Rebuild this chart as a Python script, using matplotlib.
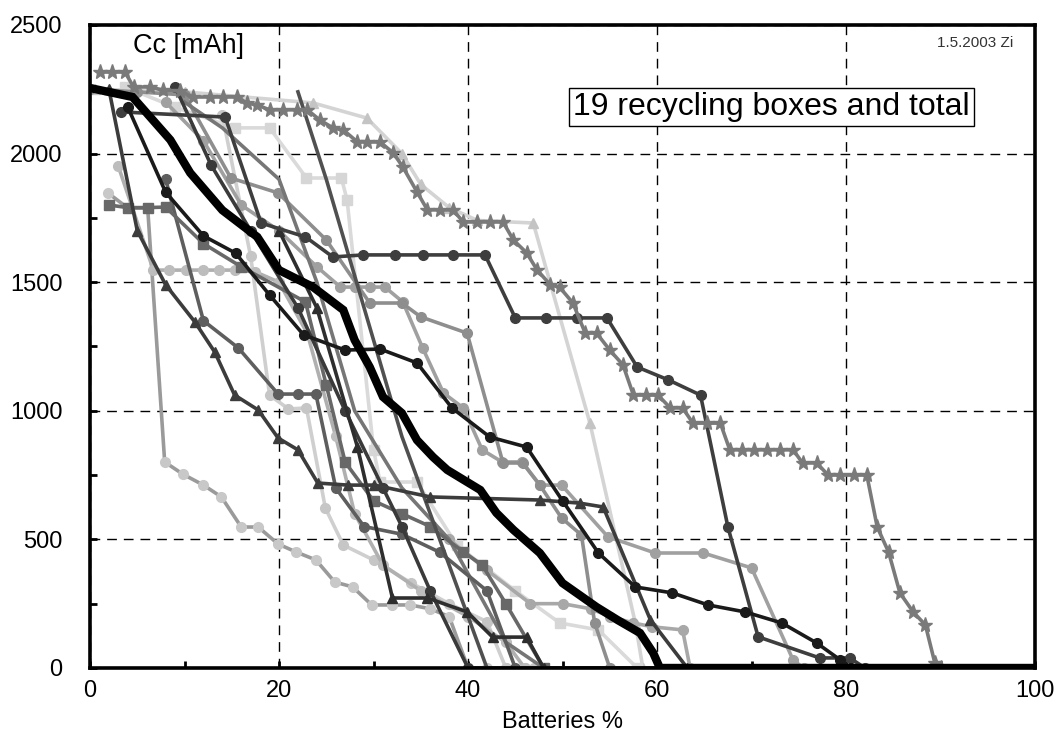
import matplotlib
matplotlib.use("Agg")
import matplotlib.pyplot as plt
from matplotlib.ticker import MultipleLocator

plt.rcParams['font.family'] = ['Liberation Sans', 'DejaVu Sans']

# total of all boxes (thick black)
total_x = [0, 4.5, 8.5, 10.6, 14, 17.7, 20, 23.6, 26.8, 28, 29.6, 31, 33, 34.6, 36.3, 37.8, 41.3, 43, 44.8,
           47.6, 50, 53.6, 55.8, 58.2, 59.6, 60.3, 100]
total_y = [2255, 2220, 2053, 1925, 1780, 1676, 1547, 1481, 1392, 1275, 1170, 1054, 991, 886, 820, 770, 692, 603,
           537, 447, 330, 237, 187, 136, 58, 0, 0]

# the individual boxes
stars_x = [1.1, 2.3, 3.7, 4.6, 6.3, 7.7, 9.5, 10.9, 12.7, 14.1, 15.6, 16.6, 17.7, 19, 20.4, 21.9, 23, 24.3, 25.7,
           26.8, 28.3, 29.3, 30.7, 32.1, 33.1, 34.6, 35.7, 37, 38.4, 39.5, 41, 42.3, 43.7, 44.8, 46.2, 47.3, 48.7,
           49.7, 51.1, 52.4, 53.6, 55, 56.4, 57.5, 58.8, 60.1, 61.4, 62.7, 63.8, 65.3, 66.7, 67.7, 69, 70.3, 71.6,
           73, 74.4, 75.4, 76.9, 78.1, 79.4, 80.8, 82.2, 83.3, 84.5, 85.7, 87.1, 88.4, 89.4, 90, 100]
stars_y = [2317, 2317, 2317, 2259, 2259, 2247, 2243, 2220, 2220, 2220, 2220, 2197, 2189, 2170, 2170, 2170, 2170,
           2131, 2100, 2092, 2045, 2045, 2045, 2002, 1948, 1851, 1781, 1781, 1781, 1734, 1734, 1734, 1734, 1664,
           1614, 1548, 1490, 1480, 1419, 1302, 1302, 1236, 1178, 1061, 1061, 1061, 1011, 1011, 952, 952, 952,
           848, 848, 848, 848, 848, 848, 797, 797, 750, 750, 750, 750, 548, 451, 292, 218, 167, 19, 0, 0]

ltri_x = [0.5, 10, 23.6, 29.3, 33, 35, 38, 41, 46.9, 52.9, 57.7, 58.5, 100]
ltri_y = [2250, 2240, 2197, 2138, 2000, 1880, 1790, 1740, 1730, 952, 175, 0, 0]

dcirc_x = [3.3, 14.3, 18.1, 22.8, 25.7, 28.9, 32.3, 35.2, 38.4, 41.8, 45, 48.2, 51.5, 54.7, 57.9, 61.2, 64.6,
           67.5, 70.7, 77.2, 80.4, 82, 100]
dcirc_y = [2162, 2142, 1730, 1676, 1598, 1606, 1606, 1606, 1606, 1606, 1361, 1361, 1361, 1361, 1170, 1120, 1061,
           548, 121, 39, 39, 0, 0]

lsq_x = [3.7, 9, 15.3, 19, 22.9, 26.6, 27.2, 30, 30.7, 34.6, 38.8, 45, 49.7, 53.8, 57.9, 100]
lsq_y = [2259, 2180, 2100, 2100, 1905, 1905, 1820, 848, 723, 723, 478, 300, 175, 148, 0, 0]

low_x = [1.9, 4, 6.1, 7.9, 9.8, 12, 13.9, 16, 17.8, 19.9, 21.8, 23.9, 25.9, 27.8, 29.8, 32, 33.9, 36, 38, 40,
         42, 44, 46, 100]
low_y = [1847, 1788, 1788, 801, 754, 711, 665, 548, 548, 482, 451, 420, 334, 315, 245, 245, 245, 230, 200, 0,
         0, 0, 0, 0]

dtri_x = [2, 5, 8, 11.1, 13.2, 15.3, 17.8, 19.9, 22, 24.1, 27.3, 30.1, 36, 47.6, 51.8, 54.3, 59.3, 63.2, 100]
dtri_y = [2250, 1700, 1490, 1345, 1228, 1061, 1003, 894, 848, 719, 711, 711, 665, 653, 641, 626, 187, 0, 0]

gc1_x = [0, 5, 10, 14.9, 19.9, 25, 29.6, 33, 35, 39.9, 43.7, 45.8, 47.6, 49.9, 52, 53.4, 55, 100]
gc1_y = [2250, 2240, 2228, 1905, 1847, 1664, 1419, 1419, 1365, 1302, 797, 797, 711, 583, 517, 175, 0, 0]

gc2_x = [8, 12, 16, 20, 24, 26.5, 28, 29.6, 31.2, 33.1, 35.2, 37.4, 39.5, 41.5, 43.6, 45.7, 47.6, 49.9, 54.8,
         59.8, 64.9, 70, 74.4, 75.5, 100]
gc2_y = [2200, 2050, 1800, 1700, 1560, 1481, 1481, 1481, 1481, 1423, 1244, 1069, 1011, 848, 801, 801, 711, 711,
         510, 447, 447, 389, 31, 0, 0]

bcirc_x = [4, 8, 12, 15.4, 19, 22.6, 27, 30.7, 34.6, 38.3, 42.3, 46.2, 50, 53.8, 57.7, 61.6, 65.4, 69.3, 73.2,
           76.9, 79.4, 80.5, 100]
bcirc_y = [2180, 1850, 1680, 1613, 1450, 1295, 1236, 1240, 1186, 1011, 898, 859, 650, 447, 315, 292, 245, 218,
           175, 97, 31, 0, 0]

plat_x = [3, 6.7, 8.4, 10.2, 12, 13.6, 15.3, 17.5, 20, 23, 26, 28, 31, 35, 40, 44, 46, 100]
plat_y = [1950, 1547, 1547, 1547, 1547, 1547, 1547, 1540, 1500, 1300, 900, 600, 400, 300, 200, 100, 0, 0]

dsq_x = [2, 4, 6.1, 8, 12, 16, 22.8, 25, 27, 30, 33, 36, 39.5, 41.5, 44, 48, 100]
dsq_y = [1800, 1790, 1790, 1792, 1650, 1560, 1423, 1100, 800, 650, 600, 550, 451, 400, 250, 0, 0]

st1_x = [22, 25, 29, 33, 37, 40, 42, 100]
st1_y = [2240, 1900, 1400, 900, 500, 200, 0, 0]

st2_x = [10, 14, 20, 24, 28, 33, 38, 44, 48, 100]
st2_y = [2200, 2100, 1900, 1500, 1000, 700, 500, 100, 0, 0]

st3_x = [9, 12.8, 17, 22, 27, 31, 33, 36, 40, 100]
st3_y = [2260, 1956, 1700, 1400, 1000, 700, 550, 300, 0, 0]

dk3_x = [20, 24, 28.3, 32, 35.7, 39.9, 42.6, 46.2, 48, 100]
dk3_y = [1700, 1400, 859, 272, 272, 218, 120, 120, 0, 0]

lc2_x = [14, 17, 19, 21, 22.9, 24.9, 26.8, 30, 34, 38, 42, 44, 47, 100]
lc2_y = [2150, 1600, 1061, 1007, 1011, 622, 478, 420, 330, 250, 180, 0, 0, 0]

gc3_x = [8, 12, 15.7, 19.9, 22, 23.9, 26, 29, 33, 37, 42, 45, 100]
gc3_y = [1900, 1350, 1244, 1065, 1065, 1065, 700, 550, 520, 450, 300, 0, 0]

gc4_x = [38, 42, 46.6, 50, 53, 55, 57.5, 59.5, 62.7, 63.5, 100]
gc4_y = [500, 380, 250, 250, 230, 200, 175, 160, 148, 0, 0]

# (x, y, line colour, marker, marker colour)
boxes = [
    (low_x, low_y, '#9a9a9a', 'o', '#c8c8c8'),
    (ltri_x, ltri_y, '#d4d4d4', '^', '#c4c4c4'),
    (lsq_x, lsq_y, '#dadada', 's', '#d6d6d6'),
    (lc2_x, lc2_y, '#cfcfcf', 'o', '#c6c6c6'),
    (plat_x, plat_y, '#b0b0b0', 'o', '#bdbdbd'),
    (gc4_x, gc4_y, '#a8a8a8', 'o', '#a8a8a8'),
    (gc2_x, gc2_y, '#a0a0a0', 'o', '#a0a0a0'),
    (gc1_x, gc1_y, '#8e8e8e', 'o', '#8e8e8e'),
    (st2_x, st2_y, '#767676', '', '#767676'),
    (gc3_x, gc3_y, '#5e5e5e', 'o', '#5e5e5e'),
    (dsq_x, dsq_y, '#686868', 's', '#686868'),
    (st1_x, st1_y, '#505050', '', '#505050'),
    (st3_x, st3_y, '#3a3a3a', 'o', '#3a3a3a'),
    (dk3_x, dk3_y, '#2e2e2e', '^', '#2e2e2e'),
    (dtri_x, dtri_y, '#3c3c3c', '^', '#3c3c3c'),
    (dcirc_x, dcirc_y, '#3e3e3e', 'o', '#3e3e3e'),
    (bcirc_x, bcirc_y, '#1a1a1a', 'o', '#1a1a1a'),
    (stars_x, stars_y, '#7a7a7a', '*', '#7a7a7a'),
]

fig = plt.figure(figsize=(10.63, 7.35), dpi=100)
ax = fig.add_axes([0.0847, 0.0912, 0.889, 0.8748])

for x, y, c, m, mc in boxes:
    ax.plot(x[:-1], y[:-1], color=c, lw=2.6, marker=m if m else None, ms=11 if m == '*' else 7,
            mfc=mc, mec=mc, zorder=2)
    ax.plot(x[-2:], y[-2:], color=c, lw=2.6, zorder=2)

ax.plot(total_x, total_y, color='black', lw=6, zorder=5, solid_joinstyle='miter')

ax.set_xlim(0, 100)
ax.set_ylim(0, 2500)
ax.xaxis.set_major_locator(MultipleLocator(20))
ax.xaxis.set_minor_locator(MultipleLocator(10))
ax.yaxis.set_major_locator(MultipleLocator(500))
ax.yaxis.set_minor_locator(MultipleLocator(250))
ax.tick_params(which='both', direction='in', length=5, width=2, labelsize=17)
ax.tick_params(axis='x', pad=9)
ax.tick_params(axis='y', pad=20)
ax.grid(True, which='major', color='black', lw=1, ls=(0, (7, 5)))
for s in ax.spines.values():
    s.set_linewidth(2.6)

ax.set_xlabel('Batteries %', fontsize=17, labelpad=6)

ax.text(4.5, 2420, 'Cc [mAh]', fontsize=19.5, va='center', ha='left')
ax.text(97.7, 2430, '1.5.2003 Zi', fontsize=11, va='center', ha='right', color='#333333')
ax.text(72.1, 2181, '19 recycling boxes and total', fontsize=23, va='center', ha='center',
        bbox=dict(boxstyle='square,pad=0.12', fc='white', ec='black', lw=1), zorder=6)

fig.savefig('out.png', dpi=100)
